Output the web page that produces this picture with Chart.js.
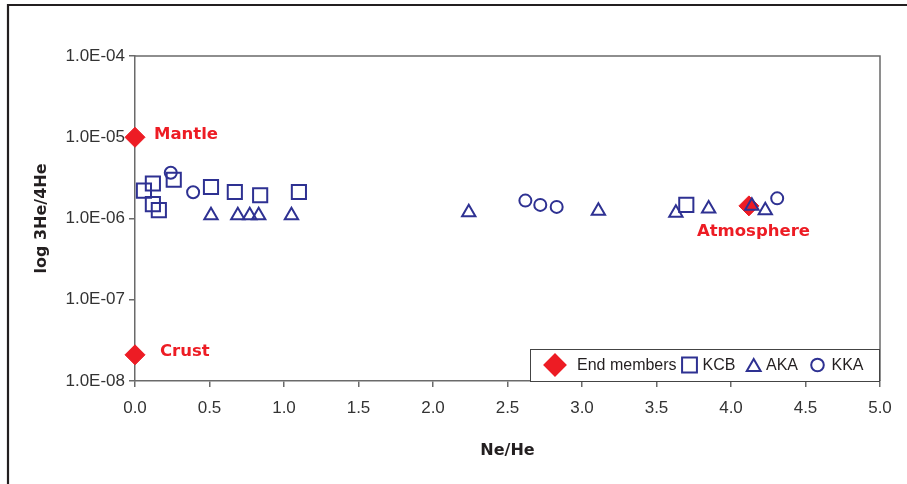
<!DOCTYPE html>
<html>
<head>
<meta charset="utf-8">
<script src="https://cdn.jsdelivr.net/npm/chart.js@4/dist/chart.umd.min.js"></script>
<style>
  html, body { margin: 0; padding: 0; background: #ffffff; }
  #wrap { width: 907px; height: 484px; position: relative; }
</style>
</head>
<body>
<div id="wrap"><canvas id="c" width="907" height="484"></canvas></div>
<script>
// ---- data ----
const endLabels = ['Mantle', 'Crust', 'Atmosphere'];
const endX = [0.0, 0.0, 4.12];
const endY = [1.0e-5, 2.1e-8, 1.43e-6];

const kcbX = [0.06, 0.12, 0.26, 0.12, 0.16, 0.51, 0.67, 0.84, 1.10, 3.70];
const kcbY = [2.2e-6, 2.7e-6, 3.0e-6, 1.5e-6, 1.27e-6, 2.44e-6, 2.12e-6, 1.93e-6, 2.12e-6, 1.47e-6];

const akaX = [0.51, 0.69, 0.77, 0.83, 1.05, 2.24, 3.11, 3.63, 3.85, 4.14, 4.23];
const akaY = [1.09e-6, 1.09e-6, 1.09e-6, 1.09e-6, 1.09e-6, 1.19e-6, 1.24e-6, 1.17e-6, 1.32e-6, 1.43e-6, 1.26e-6];

const kkaX = [0.24, 0.39, 2.62, 2.72, 2.83, 4.31];
const kkaY = [3.66e-6, 2.10e-6, 1.66e-6, 1.47e-6, 1.39e-6, 1.77e-6];

const yTickValues = [1e-8, 1e-7, 1e-6, 1e-5, 1e-4];
const yTickLabels = ['1.0E-08', '1.0E-07', '1.0E-06', '1.0E-05', '1.0E-04'];
const seriesNames = ['End members', 'KCB', 'AKA', 'KKA'];

const xTitle = 'Ne/He';
const yTitle = 'log 3He/4He';

// ---- styles ----
const RED = '#ED1C24';
const BLUE = '#2E3192';
const AXIS = '#6a6a6a';
const TICKFONT = { family: '"Liberation Sans", Arial, sans-serif', size: 17 };
const BOLDFONT = '"DejaVu Sans", sans-serif';

function pts(xs, ys) { return xs.map((x, i) => ({ x: x, y: ys[i] })); }

const framePlugin = {
  id: 'frame',
  beforeDraw(chart) {
    const ctx = chart.ctx;
    ctx.save();
    ctx.fillStyle = '#ffffff';
    ctx.fillRect(0, 0, chart.width, chart.height);
    ctx.strokeStyle = '#231f20';
    ctx.lineWidth = 2.2;
    ctx.beginPath();
    ctx.moveTo(8, chart.height);
    ctx.lineTo(8, 5);
    ctx.lineTo(chart.width, 5);
    ctx.stroke();
    ctx.restore();
  },
  beforeDatasetsDraw(chart) {
    const a = chart.chartArea, ctx = chart.ctx;
    ctx.save();
    ctx.strokeStyle = AXIS;
    ctx.lineWidth = 1.5;
    ctx.beginPath();
    ctx.moveTo(a.left, a.top);
    ctx.lineTo(a.right, a.top);
    ctx.lineTo(a.right, a.bottom);
    ctx.stroke();
    ctx.restore();
  }
};

const labelPlugin = {
  id: 'endLabels',
  afterDatasetsDraw(chart) {
    const meta = chart.getDatasetMeta(0);
    const offs = [[19, -3], [25, -3], [-52, 26]];
    const ctx = chart.ctx;
    ctx.save();
    ctx.font = 'bold 16.5px ' + BOLDFONT;
    ctx.fillStyle = RED;
    ctx.textBaseline = 'middle';
    ctx.textAlign = 'left';
    meta.data.forEach((el, i) => {
      ctx.fillText(endLabels[i], el.x + offs[i][0], el.y + offs[i][1]);
    });
    ctx.restore();
  }
};

const legendPlugin = {
  id: 'boxLegend',
  afterDraw(chart) {
    const ctx = chart.ctx;
    const a = chart.chartArea;
    const bx = 530, by = 349, bw = a.right - 530, bh = a.bottom - 349;
    ctx.save();
    ctx.fillStyle = '#ffffff';
    ctx.fillRect(bx, by, bw, bh);
    ctx.strokeStyle = '#444';
    ctx.lineWidth = 1;
    ctx.strokeRect(bx + 0.5, by + 0.5, bw - 1, bh);
    const cy = by + 16;
    const items = [
      { style: 'rectRot', r: 10.5, fill: RED, stroke: RED, mx: 555, tx: 577 },
      { style: 'rect', r: 10.5, fill: 'rgba(0,0,0,0)', stroke: BLUE, mx: 689.5, tx: 702.5 },
      { style: 'triangle', r: 8, fill: 'rgba(0,0,0,0)', stroke: BLUE, mx: 753.7, tx: 766 },
      { style: 'circle', r: 6.3, fill: 'rgba(0,0,0,0)', stroke: BLUE, mx: 817.5, tx: 831.5 }
    ];
    items.forEach((it, i) => {
      ctx.fillStyle = it.fill;
      ctx.strokeStyle = it.stroke;
      ctx.lineWidth = 2;
      const yy = it.style === 'triangle' ? cy + 2 : cy;
      Chart.helpers.drawPoint(ctx, { pointStyle: it.style, radius: it.r, rotation: 0, borderWidth: 2 }, it.mx, yy);
      ctx.fillStyle = '#231f20';
      ctx.font = '16px ' + TICKFONT.family;
      ctx.textBaseline = 'middle';
      ctx.textAlign = 'left';
      ctx.fillText(seriesNames[i], it.tx, cy + 0.5);
    });
    ctx.restore();
  }
};

new Chart(document.getElementById('c'), {
  type: 'scatter',
  data: {
    datasets: [
      { label: seriesNames[0], data: pts(endX, endY), pointStyle: 'rectRot', pointRadius: 10, pointHoverRadius: 10,
        backgroundColor: RED, borderColor: RED, borderWidth: 1, order: 10, clip: false },
      { label: seriesNames[1], data: pts(kcbX, kcbY), pointStyle: 'rect', pointRadius: 10, pointHoverRadius: 10,
        backgroundColor: 'rgba(0,0,0,0)', borderColor: BLUE, borderWidth: 2, order: 3, clip: false },
      { label: seriesNames[2], data: pts(akaX, akaY), pointStyle: 'triangle', pointRadius: 7.7, pointHoverRadius: 7.7,
        backgroundColor: 'rgba(0,0,0,0)', borderColor: BLUE, borderWidth: 2, order: 2, clip: false },
      { label: seriesNames[3], data: pts(kkaX, kkaY), pointStyle: 'circle', pointRadius: 6, pointHoverRadius: 6,
        backgroundColor: 'rgba(0,0,0,0)', borderColor: BLUE, borderWidth: 2, order: 1, clip: false }
    ]
  },
  options: {
    responsive: false,
    animation: false,
    devicePixelRatio: 1,
    layout: { padding: { top: 56, right: 27, left: 0, bottom: 0 } },
    plugins: { legend: { display: false }, tooltip: { enabled: false } },
    scales: {
      x: {
        type: 'linear', min: 0, max: 5,
        ticks: { stepSize: 0.5, font: TICKFONT, color: '#333', padding: 11,
                 callback: v => Number(v).toFixed(1), maxRotation: 0 },
        grid: { drawOnChartArea: false, drawTicks: true, tickLength: 6, color: AXIS, lineWidth: 1.5 },
        border: { display: true, color: AXIS, width: 1.5 },
        title: { display: true, text: xTitle, color: '#231f20',
                 font: { family: BOLDFONT, size: 16, weight: 'bold' }, padding: { top: 0, bottom: 24 } },
        afterFit(s) { s.height = 103; }
      },
      y: {
        type: 'logarithmic', min: 1e-8, max: 1e-4,
        afterBuildTicks(s) { s.ticks = yTickValues.map(v => ({ value: v })); },
        ticks: { font: TICKFONT, color: '#333', padding: 4, autoSkip: false,
                 callback: (v) => { const i = yTickValues.findIndex(t => Math.abs(t - v) / t < 1e-6); return i >= 0 ? yTickLabels[i] : ''; } },
        grid: { drawOnChartArea: false, drawTicks: true, tickLength: 6, color: AXIS, lineWidth: 1.5 },
        border: { display: true, color: AXIS, width: 1.5 },
        title: { display: true, text: yTitle, color: '#231f20',
                 font: { family: BOLDFONT, size: 16, weight: 'bold' }, padding: { top: 32, bottom: 0 } },
        afterFit(s) { s.width = 135; }
      }
    }
  },
  plugins: [framePlugin, labelPlugin, legendPlugin]
});
</script>
</body>
</html>
